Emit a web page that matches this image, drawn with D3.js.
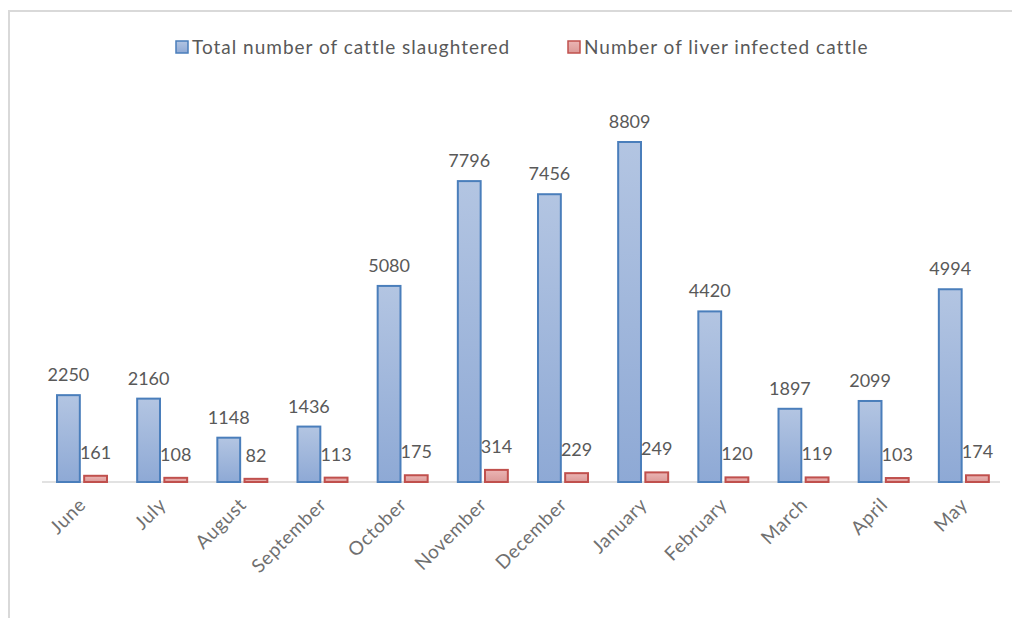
<html>
<head>
  <script src="https://d3js.org/d3.v7.min.js"></script>
  <style>
    body { margin: 0; background: #fff; }
    text { font-family: Lato, "Open Sans", sans-serif; }
  </style>
</head>
<body>
<script>
var months = ["June", "July", "August", "September", "October", "November",
              "December", "January", "February", "March", "April", "May"];
var totalSlaughtered = [2250, 2160, 1148, 1436, 5080, 7796, 7456, 8809, 4420, 1897, 2099, 4994];
var liverInfected = [161, 108, 82, 113, 175, 314, 229, 249, 120, 119, 103, 174];
var seriesNames = ["Total number of cattle slaughtered", "Number of liver infected cattle"];

var width = 1012, height = 618;

var svg = d3.select("body").append("svg")
  .attr("width", width)
  .attr("height", height);

var defs = svg.append("defs");
var gb = defs.append("linearGradient").attr("id", "gBlue").attr("x1", 0).attr("y1", 0).attr("x2", 0).attr("y2", 1);
gb.append("stop").attr("offset", "0%").attr("stop-color", "#b3c5e2");
gb.append("stop").attr("offset", "100%").attr("stop-color", "#8ea9d5");
var gr = defs.append("linearGradient").attr("id", "gRed").attr("x1", 0).attr("y1", 0).attr("x2", 0).attr("y2", 1);
gr.append("stop").attr("offset", "0%").attr("stop-color", "#ebb5b4");
gr.append("stop").attr("offset", "100%").attr("stop-color", "#dc9997");

// frame
svg.append("path")
  .attr("d", "M9,618 V11 H1012")
  .attr("fill", "none")
  .attr("stroke", "#d9d9d9")
  .attr("stroke-width", 2);

var x = d3.scaleBand()
  .domain(months)
  .range([42, 1004])
  .paddingInner(0)
  .paddingOuter(0);

var x1 = d3.scaleBand()
  .domain([0, 1])
  .range([15, 65])
  .paddingInner(0.16);

var y = d3.scaleLinear()
  .domain([0, 8809])
  .range([482, 142]);

var fills = ["url(#gBlue)", "url(#gRed)"];
var strokes = ["#4a7ebb", "#c0504d"];
var series = [totalSlaughtered, liverInfected];

// axis line
svg.append("line")
  .attr("x1", 42).attr("x2", 1000)
  .attr("y1", y(0)).attr("y2", y(0))
  .attr("stroke", "#d9d9d9")
  .attr("stroke-width", 1.5);

series.forEach(function(vals, s) {
  svg.append("g").selectAll("rect")
    .data(vals)
    .enter().append("rect")
    .attr("x", function(d, i) { return x(months[i]) + x1(s); })
    .attr("y", function(d) { return y(d); })
    .attr("width", x1.bandwidth())
    .attr("height", function(d) { return y(0) - y(d); })
    .attr("fill", fills[s])
    .attr("stroke", strokes[s])
    .attr("stroke-width", 2);
});

series.forEach(function(vals, s) {
  svg.append("g").selectAll("text")
    .data(vals)
    .enter().append("text")
    .attr("x", function(d, i) { return x(months[i]) + x1(s) + x1.bandwidth() / 2; })
    .attr("y", function(d) { return y(d) - (s == 0 ? 14 : 17); })
    .attr("text-anchor", "middle")
    .attr("font-size", 18)
    .attr("fill", "#595959")
    .text(function(d) { return d; });
});

// x labels
svg.append("g").selectAll("text")
  .data(months)
  .enter().append("text")
  .attr("transform", function(d) {
    return "translate(" + (x(d) + x.bandwidth() / 2 + 5) + "," + (y(0) + 24) + ") rotate(-45)";
  })
  .attr("text-anchor", "end")
  .attr("font-size", 19)
  .attr("letter-spacing", 0.6)
  .attr("fill", "#707070")
  .text(function(d) { return d; });

// legend
var legendX = [176, 568];
seriesNames.forEach(function(name, s) {
  svg.append("rect")
    .attr("x", legendX[s]).attr("y", 41)
    .attr("width", 12).attr("height", 12)
    .attr("fill", fills[s])
    .attr("stroke", strokes[s])
    .attr("stroke-width", 1.5);
  svg.append("text")
    .attr("x", legendX[s] + 16)
    .attr("y", 54)
    .attr("font-size", 19)
    .attr("letter-spacing", 1)
    .attr("fill", "#595959")
    .text(name);
});
</script>
</body>
</html>
